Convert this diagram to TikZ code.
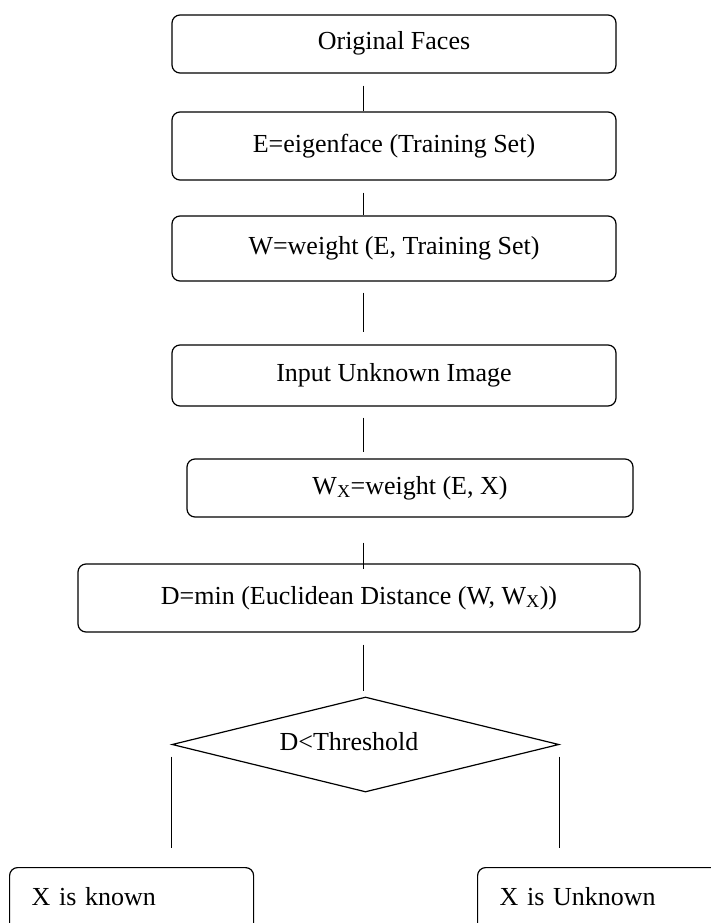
\documentclass[tikz,border=0pt]{standalone}
\usepackage{fontspec}
\setmainfont{Liberation Serif}
\usetikzlibrary{shapes.geometric,calc}
\begin{document}
\begin{tikzpicture}[x=1pt,y=-1pt,
  txt/.style={font=\fontsize{26}{30}\selectfont, text height=18pt, text depth=6pt, inner sep=0pt},
  box/.style={txt, draw, line width=1.2pt, rounded corners=8pt},
  endbox/.style={box, anchor=north west, minimum height=70pt, text height=18pt, text depth=12pt, inner xsep=22pt, align=left},
  conn/.style={line width=1pt}]
\useasboundingbox (0,0) rectangle (711,923);
\clip (0,0) rectangle (711,923);
\coordinate (ax) at (363,0);
\node[box, minimum width=444pt, minimum height=58pt] (b1) at (394,44) {Original Faces};
\node[box, minimum width=444pt, minimum height=68pt] (b2) at (394,146) {E=eigenface (Training Set)};
\node[box, minimum width=444pt, minimum height=65pt] (b3) at (394,248.5) {W=weight (E, Training Set)};
\node[box, minimum width=444pt, minimum height=61pt] (b4) at (394,375.5) {Input Unknown Image};
\node[box, minimum width=446pt, minimum height=58pt] (b5) at (410,488) {W\textsubscript{X}=weight (E, X)};
\node[box, minimum width=562pt, minimum height=68pt] (b6) at (359,598) {D=min (Euclidean Distance (W, W\textsubscript{X}))};
\node[draw, diamond, line width=1.2pt, inner sep=0pt, minimum width=387pt, minimum height=95pt] (dec) at (365.5,744.5) {};
\node[txt] (dect) at (349,744) {D<Threshold};
\node[endbox, text width=200pt] (kn) at (9,867) {X is known};
\node[endbox, text width=219pt] (un) at (477,867) {X is Unknown};
\draw[conn] ($(b1.south-|ax)+(0,12)$) -- (b2.north-|ax);
\draw[conn] ($(b2.south-|ax)+(0,12)$) -- (b3.north-|ax);
\draw[conn] ($(b3.south-|ax)+(0,11)$) -- ($(b4.north-|ax)+(0,-12)$);
\draw[conn] ($(b4.south-|ax)+(0,11)$) -- ($(b5.north-|ax)+(0,-6)$);
\draw[conn] ($(b5.south-|ax)+(0,25)$) -- ($(b6.north-|ax)+(0,6)$);
\draw[conn] ($(b6.south-|ax)+(0,12)$) -- ($(dec.north-|ax)+(0,-5)$);
\draw[conn] ($(dec.west)+(0,12)$) -- ($(kn.north-|dec.west)+(0,-19)$);
\draw[conn] ($(dec.east)+(0,12)$) -- ($(un.north-|dec.east)+(0,-19)$);
\end{tikzpicture}
\end{document}
